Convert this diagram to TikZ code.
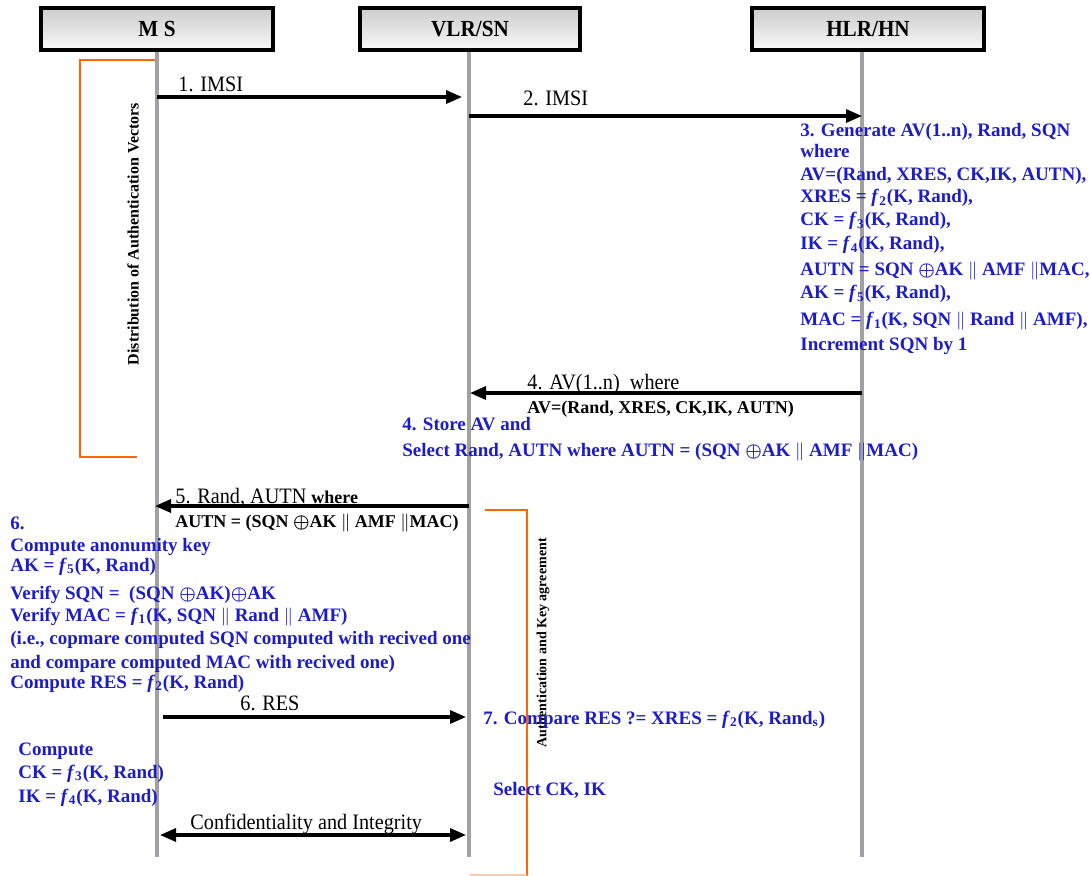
\documentclass[tikz,border=0pt]{standalone}
\usepackage{fontspec}
\usepackage{amsmath}
\setmainfont{Liberation Serif}
\newfontfamily\narrowfont[FakeStretch=0.92]{Liberation Serif}
\usetikzlibrary{arrows.meta}

\definecolor{noteblue}{RGB}{28,28,200}
\definecolor{brorange}{RGB}{255,102,0}
\definecolor{lifegray}{RGB}{160,160,165}

\newcommand{\fsub}[1]{\textit{f}\textsubscript{#1}}
\newcommand{\xorsym}{\ensuremath{\boldsymbol{\oplus}}}
\newcommand{\cat}{\ensuremath{\|}}

\begin{document}
\begin{tikzpicture}[x=0.5pt, y=-0.5pt,
    entity/.style={draw=black, line width=1.8pt, top color=gray!40, bottom color=gray!5, minimum height=21pt, inner sep=0pt, font=\narrowfont\bfseries\fontsize{11.5}{13}\selectfont},
    life/.style={draw=lifegray, line width=1.6pt},
    msg/.style={-{Triangle[length=8pt, width=6.5pt]}, line width=1.6pt},
    lbl/.style={anchor=base west, inner sep=0pt, font=\narrowfont\fontsize{11}{13}\selectfont},
    lblb/.style={anchor=base west, inner sep=0pt, font=\bfseries\fontsize{9}{11}\selectfont},
    note/.style={anchor=base west, inner sep=0pt, text=noteblue, font=\bfseries\fontsize{9.5}{11}\selectfont},
    phase/.style={rotate=90, inner sep=0pt, font=\bfseries\fontsize{8}{10}\selectfont},
    bracket/.style={draw=brorange, line width=1.2pt}
  ]
  \useasboundingbox (0,0) rectangle (1090,876);

  % entities
  \node[entity, minimum width=116pt] (ms) at (157,29) {M S};
  \node[entity, minimum width=110pt] (vlr) at (470,29) {VLR/SN};
  \node[entity, minimum width=116pt] (hlr) at (868,29) {HLR/HN};

  % lifelines
  \coordinate (msbot) at (157,857);
  \coordinate (vlrbot) at (469,857);
  \coordinate (hlrbot) at (862,857);
  \draw[life] (ms.south -| msbot) -- (msbot);
  \draw[life] (vlr.south -| vlrbot) -- (vlrbot);
  \draw[life] (hlr.south -| hlrbot) -- (hlrbot);

  % phase brackets
  \draw[bracket] (155,60) -- (80,60) -- (80,457) -- (137,457);
  \node[phase] (distlbl) at (133,234) {Distribution of Authentication Vectors};
  \draw[bracket] (485,510) -- (527,510) -- (527,876);
  \draw[draw=brorange!35, line width=1.2pt] (470,875) -- (527,875);
  \node[phase, font=\bfseries\fontsize{7}{9}\selectfont] (akalbl) at (543,643) {Authentication and Key agreement};

  % message end points
  \coordinate (imsi1a) at (157,97);  \coordinate (imsi1b) at (462,97);
  \coordinate (imsi2a) at (469,116); \coordinate (imsi2b) at (862,116);
  \coordinate (ava) at (862,393);    \coordinate (avb) at (470,393);
  \coordinate (autna) at (469,506);  \coordinate (autnb) at (155,506);
  \coordinate (resa) at (163,717);   \coordinate (resb) at (466,717);
  \coordinate (cia) at (160,835);    \coordinate (cib) at (466,835);

  % messages
  \draw[msg] (imsi1a) -- (imsi1b);
  \node[lbl] (imsi1lbl) at (178,92) {1. IMSI};
  \draw[msg] (imsi2a) -- (imsi2b);
  \node[lbl] (imsi2lbl) at (523,106) {2. IMSI};
  \draw[msg] (ava) -- (avb);
  \node[lbl] (avlbl) at (527,390) {4. AV(1..n)\ \ where};
  \node[lblb] (avlblb) at (527,414) {AV=(Rand, XRES, CK,IK, AUTN)};
  \draw[msg] (autna) -- (autnb);
  \node[lbl] (autnlbl) at (175,503) {5. Rand, AUTN {\normalfont\bfseries\fontsize{9}{11}\selectfont where}};
  \node[lblb] (autnlblb) at (175,527) {AUTN = (SQN \xorsym AK \cat{} AMF \cat MAC)};
  \draw[msg] (resa) -- (resb);
  \node[lbl] (reslbl) at (240,710) {6. RES};
  \draw[{Triangle[length=8pt, width=6.5pt]}-{Triangle[length=8pt, width=6.5pt]}, line width=1.6pt] (cia) -- (cib);
  \node[lbl] (cilbl) at (190,829) {Confidentiality and Integrity};

  % step 3 at HLR
  \node[note] (g1) at (800,137) {3. Generate AV(1..n), Rand, SQN};
  \node[note] (g2) at (800,158) {where};
  \node[note] (g3) at (800,181) {AV=(Rand, XRES, CK,IK, AUTN),};
  \node[note] (g4) at (800,203) {XRES = \fsub{2}(K, Rand),};
  \node[note] (g5) at (800,226) {CK = \fsub{3}(K, Rand),};
  \node[note] (g6) at (800,250) {IK = \fsub{4}(K, Rand),};
  \node[note] (g7) at (800,276) {AUTN = SQN \xorsym AK \cat{} AMF \cat MAC,};
  \node[note] (g8) at (800,299) {AK = \fsub{5}(K, Rand),};
  \node[note] (g9) at (800,326) {MAC = \fsub{1}(K, SQN \cat{} Rand \cat{} AMF),};
  \node[note] (g10) at (800,351) {Increment SQN by 1};

  % step 4 at VLR
  \node[note] (s1) at (402,430) {4. Store AV and};
  \node[note] (s2) at (402,456) {Select Rand, AUTN where AUTN = (SQN \xorsym AK \cat{} AMF \cat MAC)};

  % step 6 at MS
  \node[note] (v1) at (10,529) {6.};
  \node[note] (v2) at (10,551) {Compute anonumity key};
  \node[note] (v3) at (10,571) {AK = \fsub{5}(K, Rand)};
  \node[note] (v4) at (10,599) {Verify SQN = \ (SQN \xorsym AK)\xorsym AK};
  \node[note] (v5) at (10,621) {Verify MAC = \fsub{1}(K, SQN \cat{} Rand \cat{} AMF)};
  \node[note] (v6) at (10,644) {(i.e., copmare computed SQN computed with recived one};
  \node[note] (v7) at (10,668) {and compare computed MAC with recived one)};
  \node[note] (v8) at (10,688) {Compute RES = \fsub{2}(K, Rand)};

  % step 7 at VLR
  \node[note] (c1) at (483,724) {7. Compare RES ?= XRES = \fsub{2}(K, Rand\textsubscript{s})};
  \node[note] (k1) at (493,795) {Select CK, IK};

  % keys at MS
  \node[note] (m1) at (18,755) {Compute};
  \node[note] (m2) at (18,778) {CK = \fsub{3}(K, Rand)};
  \node[note] (m3) at (18,802) {IK = \fsub{4}(K, Rand)};
\end{tikzpicture}
\end{document}
